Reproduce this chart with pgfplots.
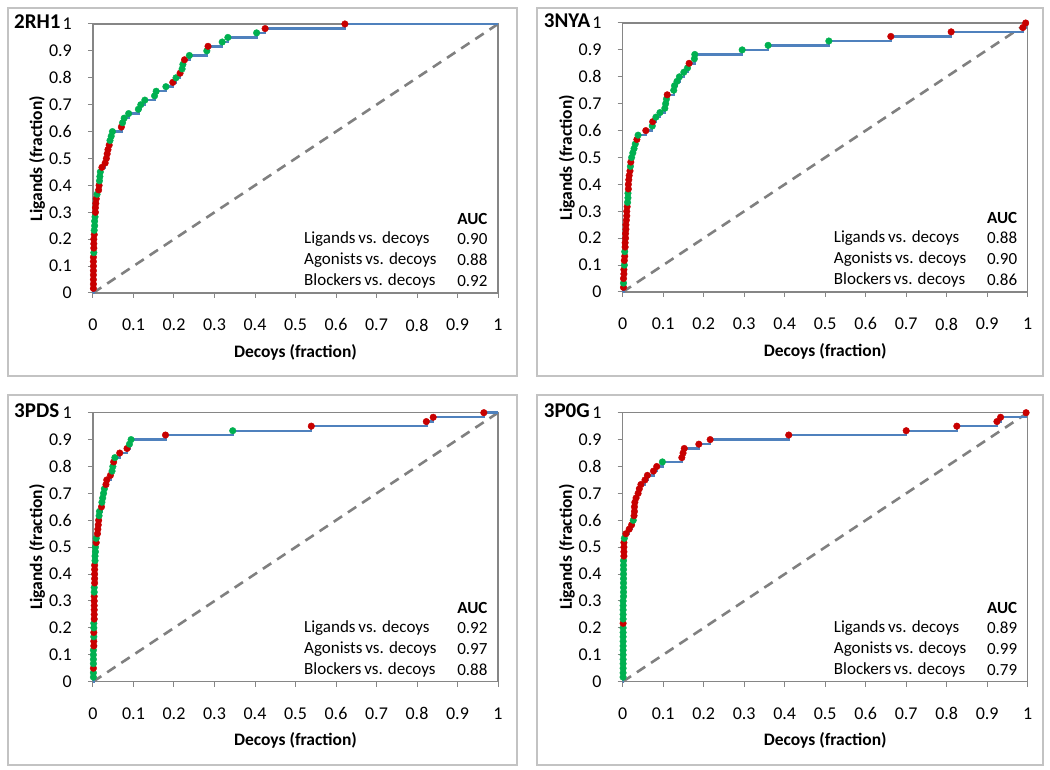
\documentclass[border=0pt]{standalone}
\usepackage{pgfplots}
\pgfplotsset{compat=1.18}
\usepackage{pgfplotstable}
\usepackage{fontspec}
\setmainfont{Carlito}

\definecolor{lineblue}{RGB}{79,129,189}
\definecolor{dotred}{RGB}{200,0,0}
\definecolor{dotgreen}{RGB}{0,176,80}
\definecolor{dashgray}{RGB}{128,128,128}
\definecolor{axgray}{RGB}{134,134,134}
\definecolor{framegray}{RGB}{195,195,195}

% x = decoys fraction, y = ligands fraction, c = r (red) / g (green) / n (end points, no dot)
\pgfplotstableread{
x y c
0 0 n
0.001 0.017 r
0.001 0.033 r
0.001 0.050 r
0.001 0.067 r
0.001 0.083 r
0.001 0.100 r
0.001 0.117 r
0.001 0.133 r
0.002 0.150 g
0.002 0.167 r
0.002 0.183 r
0.002 0.200 r
0.003 0.217 r
0.003 0.233 g
0.004 0.250 g
0.004 0.267 g
0.005 0.283 g
0.006 0.300 r
0.006 0.317 r
0.007 0.333 r
0.008 0.350 r
0.010 0.367 g
0.014 0.383 r
0.015 0.400 r
0.016 0.417 g
0.017 0.433 g
0.018 0.450 g
0.022 0.467 r
0.030 0.483 r
0.033 0.500 r
0.035 0.517 r
0.037 0.533 r
0.040 0.550 r
0.042 0.567 g
0.045 0.583 g
0.048 0.600 g
0.070 0.617 r
0.073 0.633 g
0.077 0.650 g
0.088 0.667 g
0.112 0.683 g
0.118 0.700 g
0.128 0.717 g
0.152 0.733 g
0.156 0.750 g
0.180 0.767 g
0.197 0.783 r
0.205 0.800 g
0.215 0.817 r
0.220 0.833 g
0.222 0.850 g
0.226 0.867 r
0.238 0.883 g
0.281 0.900 g
0.284 0.917 r
0.319 0.933 g
0.333 0.950 g
0.404 0.967 g
0.425 0.983 r
0.622 1.000 r
1 1 n
}\tabA

\pgfplotstableread{
x y c
0 0 n
0.002 0.017 r
0.002 0.033 g
0.002 0.050 r
0.003 0.067 r
0.003 0.083 r
0.004 0.100 g
0.004 0.117 r
0.005 0.133 r
0.005 0.150 g
0.006 0.167 r
0.006 0.183 r
0.007 0.200 r
0.007 0.217 r
0.008 0.233 r
0.008 0.250 r
0.009 0.267 r
0.010 0.283 r
0.010 0.300 r
0.011 0.317 r
0.012 0.333 g
0.013 0.350 g
0.013 0.367 g
0.014 0.383 r
0.014 0.400 r
0.015 0.417 r
0.016 0.433 r
0.018 0.450 r
0.019 0.467 g
0.020 0.483 r
0.022 0.500 g
0.025 0.517 g
0.028 0.533 g
0.031 0.550 g
0.035 0.567 r
0.038 0.583 g
0.057 0.600 r
0.073 0.617 g
0.074 0.633 r
0.082 0.650 g
0.092 0.667 g
0.104 0.683 g
0.106 0.700 g
0.108 0.717 g
0.110 0.733 r
0.126 0.750 g
0.128 0.767 g
0.134 0.783 g
0.140 0.800 g
0.151 0.817 g
0.160 0.833 g
0.164 0.850 r
0.177 0.867 g
0.178 0.883 g
0.295 0.900 g
0.359 0.917 g
0.509 0.933 g
0.662 0.950 r
0.811 0.967 r
0.988 0.983 r
0.995 1.000 r
1 1 n
}\tabB

\pgfplotstableread{
x y c
0 0 n
0.001 0.017 g
0.001 0.033 g
0.001 0.050 r
0.001 0.067 g
0.001 0.083 g
0.001 0.100 g
0.001 0.117 g
0.002 0.133 r
0.002 0.150 r
0.002 0.167 g
0.002 0.183 r
0.002 0.200 g
0.002 0.217 g
0.003 0.233 r
0.003 0.250 r
0.003 0.267 r
0.003 0.283 r
0.003 0.300 r
0.003 0.317 r
0.003 0.333 g
0.003 0.350 g
0.004 0.367 r
0.004 0.383 r
0.004 0.400 r
0.004 0.417 r
0.004 0.433 r
0.005 0.450 g
0.005 0.467 g
0.006 0.483 g
0.006 0.500 g
0.008 0.517 r
0.008 0.533 g
0.011 0.550 r
0.012 0.567 r
0.013 0.583 r
0.014 0.600 r
0.015 0.617 g
0.016 0.633 g
0.021 0.650 r
0.022 0.667 g
0.024 0.683 g
0.026 0.700 g
0.028 0.717 g
0.032 0.733 r
0.034 0.750 r
0.043 0.767 r
0.047 0.783 g
0.049 0.800 g
0.051 0.817 r
0.054 0.833 g
0.066 0.850 r
0.084 0.867 r
0.090 0.883 g
0.094 0.900 g
0.179 0.917 r
0.345 0.933 g
0.539 0.950 r
0.823 0.967 r
0.840 0.983 r
0.965 1.000 r
1 1 n
}\tabC

\pgfplotstableread{
x y c
0 0 n
0.001 0.017 g
0.001 0.033 g
0.001 0.050 g
0.001 0.067 g
0.001 0.083 g
0.001 0.100 g
0.001 0.117 g
0.001 0.133 g
0.001 0.150 g
0.001 0.167 g
0.001 0.183 g
0.001 0.200 g
0.001 0.217 r
0.001 0.233 g
0.001 0.250 g
0.001 0.267 g
0.001 0.283 g
0.001 0.300 g
0.002 0.317 g
0.002 0.333 g
0.002 0.350 g
0.002 0.367 g
0.002 0.383 g
0.002 0.400 g
0.002 0.417 g
0.002 0.433 g
0.002 0.450 g
0.003 0.467 r
0.003 0.483 r
0.003 0.500 r
0.003 0.517 r
0.004 0.533 g
0.008 0.550 r
0.016 0.567 r
0.022 0.583 r
0.026 0.600 g
0.028 0.617 r
0.029 0.633 r
0.029 0.650 r
0.030 0.667 r
0.033 0.683 r
0.038 0.700 r
0.041 0.717 r
0.045 0.733 r
0.055 0.750 r
0.061 0.767 r
0.076 0.783 r
0.084 0.800 r
0.098 0.817 g
0.146 0.833 r
0.149 0.850 r
0.152 0.867 r
0.188 0.883 r
0.216 0.900 r
0.410 0.917 r
0.700 0.933 r
0.825 0.950 r
0.924 0.967 r
0.933 0.983 r
0.996 1.000 r
1 1 n
}\tabD

\pgfplotsset{
  rocaxis/.style={
    scale only axis, width=405pt, height=269pt,
    anchor=south west,
    xmin=0, xmax=1, ymin=0, ymax=1,
    clip=false,
    axis line style={draw=axgray, line width=1.3pt},
    tick style={draw=axgray, line width=1pt},
    tick align=outside, major tick length=5pt,
    xtick pos=bottom, ytick pos=left,
    xtick={0,0.1,0.2,0.3,0.4,0.5,0.6,0.7,0.8,0.9,1},
    ytick={0,0.1,0.2,0.3,0.4,0.5,0.6,0.7,0.8,0.9,1},
    xticklabels={0,0.1,0.2,0.3,0.4,0.5,0.6,0.7,0.8,0.9,1},
    yticklabels={0,0.1,0.2,0.3,0.4,0.5,0.6,0.7,0.8,0.9,1},
    ticklabel style={font=\fontsize{18}{20}\selectfont, inner sep=0pt},
    xticklabel style={anchor=center, yshift=-27pt},
    yticklabel style={anchor=east, xshift=-16pt},
    xlabel={Decoys (fraction)}, ylabel={Ligands (fraction)},
    label style={font=\fontsize{17.5}{20}\selectfont\bfseries},
    xlabel style={at={(axis description cs:0.5,-0.219)}, anchor=center},
    ylabel style={at={(axis description cs:-0.138,0.5)}, anchor=center},
  },
  diag/.style={dashgray, line width=2.6pt, dash pattern=on 10pt off 7pt},
  roc/.style={lineblue, line width=2.4pt, const plot mark left},
  % first and last rows are the curve's end points only
  dots/.style={scatter, only marks, point meta=explicit symbolic, mark size=3.3pt,
    skip coords between index={0}{1},
    skip coords between index={61}{62},
    scatter/classes={
      r={mark=*, draw=dotred, fill=dotred},
      g={mark=*, draw=dotgreen, fill=dotgreen},
      n={mark=*, draw=dotred, fill=dotred}}},
}
\tikzset{auc/.style={font=\fontsize{17}{20}\selectfont, anchor=west, inner sep=0pt}}

\newcommand{\aucbox}[3]{%
  \node[auc, font=\fontsize{17}{20}\selectfont\bfseries] at (axis cs:0.899,0.275) {AUC};
  \node[auc] at (axis cs:0.521,0.200) {Ligands\kern-1pt\ vs. decoys};
  \node[auc] at (axis cs:0.899,0.200) {#1};
  \node[auc] at (axis cs:0.521,0.122) {Agonists\kern-1pt\ vs. decoys};
  \node[auc] at (axis cs:0.899,0.122) {#2};
  \node[auc] at (axis cs:0.521,0.044) {Blockers\kern-1pt\ vs. decoys};
  \node[auc] at (axis cs:0.899,0.044) {#3};
}
\newcommand{\paneltitle}[1]{%
  \node[anchor=west, inner sep=0pt, font=\fontsize{21}{24}\selectfont\bfseries]
    at (axis description cs:-0.195,1.007) {#1};
}

\begin{document}
\begin{tikzpicture}
\useasboundingbox (0pt,0pt) rectangle (1050pt,770pt);
\fill[white] (0pt,0pt) rectangle (1050pt,770pt);
\draw[framegray, line width=1.5pt] (8pt,394pt) rectangle (517pt,762pt);
\draw[framegray, line width=1.5pt] (537pt,394pt) rectangle (1043pt,762pt);
\draw[framegray, line width=1.5pt] (8pt,5pt) rectangle (517pt,375pt);
\draw[framegray, line width=1.5pt] (537pt,5pt) rectangle (1043pt,375pt);

\begin{axis}[rocaxis, at={(93pt,477pt)}]
\addplot[diag] coordinates {(0,0) (1,1)};
\addplot[roc] table[x=x, y=y] {\tabA};
\addplot[dots] table[x=x, y=y, meta=c] {\tabA};
\paneltitle{2RH1}
\aucbox{0.90}{0.88}{0.92}
\end{axis}

\begin{axis}[rocaxis, at={(622.7pt,478pt)}]
\addplot[diag] coordinates {(0,0) (1,1)};
\addplot[roc] table[x=x, y=y] {\tabB};
\addplot[dots] table[x=x, y=y, meta=c] {\tabB};
\paneltitle{3NYA}
\aucbox{0.88}{0.90}{0.86}
\end{axis}

\begin{axis}[rocaxis, at={(93pt,88.3pt)}]
\addplot[diag] coordinates {(0,0) (1,1)};
\addplot[roc] table[x=x, y=y] {\tabC};
\addplot[dots] table[x=x, y=y, meta=c] {\tabC};
\paneltitle{3PDS}
\aucbox{0.92}{0.97}{0.88}
\end{axis}

\begin{axis}[rocaxis, at={(622.7pt,88.3pt)}]
\addplot[diag] coordinates {(0,0) (1,1)};
\addplot[roc] table[x=x, y=y] {\tabD};
\addplot[dots] table[x=x, y=y, meta=c] {\tabD};
\paneltitle{3P0G}
\aucbox{0.89}{0.99}{0.79}
\end{axis}
\end{tikzpicture}
\end{document}
